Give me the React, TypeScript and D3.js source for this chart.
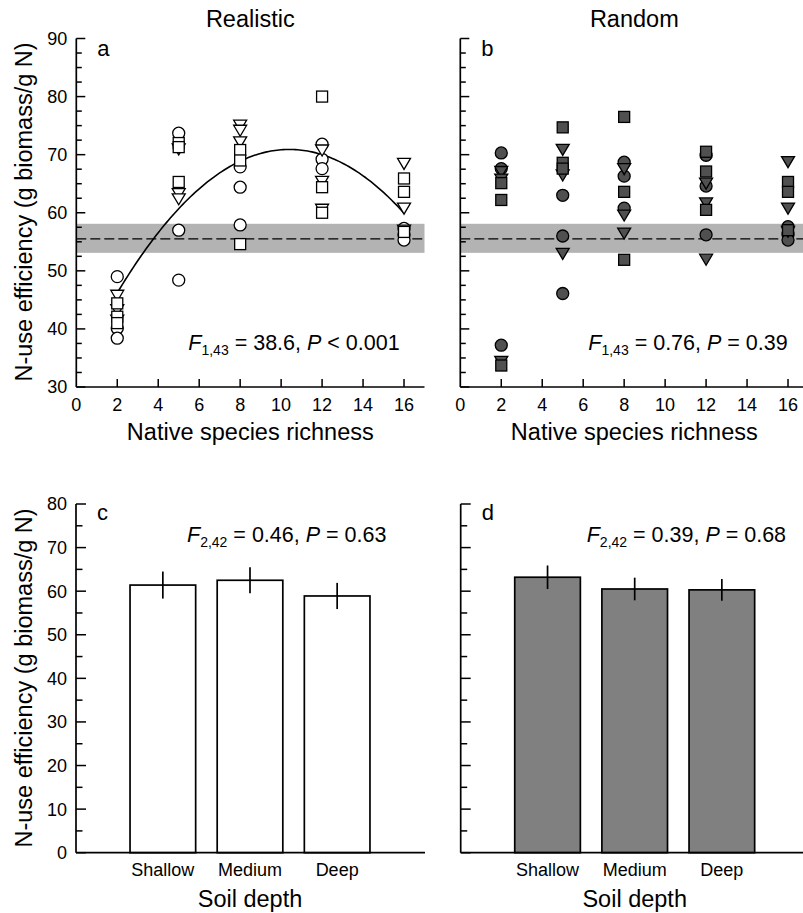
import React from 'react';
import * as d3 from 'd3';

// richness levels (x) for the scatter panels
const richness = [2, 5, 8, 12, 16];

// Realistic assemblages: three replicate values per richness level and per soil depth symbol
const realCircle = [[49.0, 40.1, 38.4], [73.7, 57.0, 48.4], [67.9, 64.4, 57.9], [71.8, 69.2, 67.6], [57.3, 56.2, 55.3]];
const realTriangle = [[45.8, 43.3, 41.5], [71.0, 63.3, 62.4], [75.1, 74.2, 72.2], [70.8, 65.4, 60.6], [68.5, 60.8, 57.0]];
const realSquare = [[44.4, 42.1, 41.0], [72.0, 71.3, 65.3], [70.8, 69.0, 54.6], [80.0, 64.4, 60.0], [65.9, 63.6, 56.7]];

// Random assemblages
const randCircle = [[70.3, 67.6, 37.2], [63.0, 56.0, 46.1], [68.7, 66.3, 60.8], [69.9, 64.6, 56.2], [57.6, 56.3, 55.3]];
const randTriangle = [[67.1, 65.8, 34.4], [70.9, 66.5, 53.0], [67.6, 59.6, 56.5], [65.1, 61.7, 52.0], [68.8, 60.8, 56.8]];
const randSquare = [[65.1, 62.2, 33.7], [74.7, 68.6, 67.6], [76.5, 63.6, 51.9], [70.5, 67.1, 60.5], [65.3, 63.6, 57.0]];

// monoculture reference band (mean and its interval)
const bandLow = 53.1;
const bandMean = 55.5;
const bandHigh = 58.1;

// quadratic fit for the realistic panel: y = peakY + curv * (x - peakX)^2
const fitPeakX = 10.4;
const fitPeakY = 70.9;
const fitCurv = -0.35;
const fitRange = [2, 16];

// soil depth bars
const depths = ['Shallow', 'Medium', 'Deep'];
const realMeans = [61.4, 62.5, 58.9];
const realErr = [3.1, 3.0, 3.0];
const randMeans = [63.2, 60.5, 60.3];
const randErr = [2.7, 2.6, 2.5];

const xTicks = [0, 2, 4, 6, 8, 10, 12, 14, 16];

const FONT = '"Liberation Sans", Arial, Helvetica, sans-serif';
const DARK = '#505050';
const BARGRAY = '#808080';

// top panels share this vertical scale
const yTop = d3.scaleLinear().domain([30, 90]).range([387, 38.5]);
const xRich = d3.scaleLinear().domain([0, 17]).range([0, 348.2]);
// bottom panels
const yBot = d3.scaleLinear().domain([0, 80]).range([852.7, 504]);

const Stat = ({ x, y, sub, rest1, p, rest2 }) => (
  <text x={x} y={y} fontSize={21.5} fontFamily={FONT}>
    <tspan fontStyle="italic">F</tspan>
    <tspan fontSize={14} dy={5}>{sub}</tspan>
    <tspan dy={-5}>{rest1}</tspan>
    <tspan fontStyle="italic">{p}</tspan>
    <tspan>{rest2}</tspan>
  </text>
);

const Marker = ({ kind, cx, cy, fill }) => {
  if (kind === 'circle') {
    return <circle cx={cx} cy={cy} r={6} fill={fill} stroke="#000" strokeWidth={1.3} />;
  }
  if (kind === 'square') {
    return <rect x={cx - 5.5} y={cy - 5.5} width={11} height={11} fill={fill} stroke="#000" strokeWidth={1.3} />;
  }
  return (
    <path d={`M${cx - 6.5},${cy - 5} L${cx + 6.5},${cy - 5} L${cx},${cy + 6} Z`}
      fill={fill} stroke="#000" strokeWidth={1.3} strokeLinejoin="miter" />
  );
};

const ScatterPanel = ({ x0, circles, triangles, squares, fill, letter, title, showYLabels, stat, fit }) => {
  const xMax = xRich(17);
  const yMinor = d3.range(30, 90.01, 2.5);
  const series = [
    { kind: 'circle', vals: circles },
    { kind: 'triangle', vals: triangles },
    { kind: 'square', vals: squares },
  ];
  const line = d3.line().x(d => xRich(d[0])).y(d => yTop(d[1]));
  const fitPts = fit
    ? d3.range(fitRange[0], fitRange[1] + 0.001, 0.1).map(x => [x, fitPeakY + fitCurv * (x - fitPeakX) ** 2])
    : null;

  return (
    <g transform={`translate(${x0},0)`}>
      <text x={174} y={27} textAnchor="middle" fontSize={23.5} fontFamily={FONT}>{title}</text>
      {/* reference band */}
      <rect x={0} y={yTop(bandHigh)} width={xMax} height={yTop(bandLow) - yTop(bandHigh)} fill="#b3b3b3" />
      <line x1={0} x2={xMax} y1={yTop(bandMean)} y2={yTop(bandMean)} stroke="#000" strokeWidth={1.3} strokeDasharray="10 4" />
      {fitPts && <path d={line(fitPts)} fill="none" stroke="#000" strokeWidth={1.6} />}
      {series.map(s => s.vals.map((vals, i) => vals.map((v, j) => (
        <Marker key={`${s.kind}-${i}-${j}`} kind={s.kind} cx={xRich(richness[i])} cy={yTop(v)} fill={fill} />
      ))))}
      {/* axes */}
      <line x1={0} x2={0} y1={yTop(90)} y2={yTop(30)} stroke="#000" strokeWidth={1.7} />
      <line x1={0} x2={xMax} y1={yTop(30)} y2={yTop(30)} stroke="#000" strokeWidth={1.7} />
      {yMinor.map(v => (
        <line key={v} x1={0} x2={v % 10 === 0 ? 9 : 5.5} y1={yTop(v)} y2={yTop(v)} stroke="#000" strokeWidth={1.5} />
      ))}
      {showYLabels && yTop.ticks(6).map(v => (
        <text key={v} x={-9} y={yTop(v)} dy="0.36em" textAnchor="end" fontSize={18} fontFamily={FONT}>{v}</text>
      ))}
      {xTicks.map(v => (
        <g key={v}>
          {v > 0 && <line x1={xRich(v)} x2={xRich(v)} y1={yTop(30)} y2={yTop(30) - 8} stroke="#000" strokeWidth={1.5} />}
          <text x={xRich(v)} y={411} textAnchor="middle" fontSize={18} fontFamily={FONT}>{v}</text>
        </g>
      ))}
      <text x={174} y={440} textAnchor="middle" fontSize={23.5} fontFamily={FONT}>Native species richness</text>
      <text x={21} y={56} fontSize={22} fontFamily={FONT}>{letter}</text>
      {stat}
    </g>
  );
};

const BarPanel = ({ x0, means, errs, fill, letter, showYLabels, stat, axisLen }) => {
  const xb = d3.scaleBand().domain(depths).range([0, 348]).paddingInner(0.247).paddingOuter(0.62);
  const yMinor = d3.range(0, 80.01, 5);
  return (
    <g transform={`translate(${x0},0)`}>
      {means.map((m, i) => (
        <g key={depths[i]}>
          <rect x={xb(depths[i])} y={yBot(m)} width={xb.bandwidth()} height={yBot(0) - yBot(m)}
            fill={fill} stroke="#000" strokeWidth={1.7} />
          <line x1={xb(depths[i]) + xb.bandwidth() / 2} x2={xb(depths[i]) + xb.bandwidth() / 2}
            y1={yBot(m + errs[i])} y2={yBot(m - errs[i])} stroke="#000" strokeWidth={1.7} />
          <text x={xb(depths[i]) + xb.bandwidth() / 2} y={876} textAnchor="middle" fontSize={18} fontFamily={FONT}>{depths[i]}</text>
        </g>
      ))}
      <line x1={0} x2={0} y1={yBot(80)} y2={yBot(0)} stroke="#000" strokeWidth={1.7} />
      <line x1={0} x2={axisLen} y1={yBot(0)} y2={yBot(0)} stroke="#000" strokeWidth={1.7} />
      {yMinor.map(v => (
        <line key={v} x1={0} x2={v % 10 === 0 ? 10 : 6.5} y1={yBot(v)} y2={yBot(v)} stroke="#000" strokeWidth={1.5} />
      ))}
      {showYLabels && yBot.ticks(8).map(v => (
        <text key={v} x={-9} y={yBot(v)} dy="0.36em" textAnchor="end" fontSize={18} fontFamily={FONT}>{v}</text>
      ))}
      <text x={174} y={907} textAnchor="middle" fontSize={23.5} fontFamily={FONT}>Soil depth</text>
      <text x={21} y={520} fontSize={22} fontFamily={FONT}>{letter}</text>
      {stat}
    </g>
  );
};

export default function App() {
  return (
    <svg width={803} height={913} style={{ position: 'absolute', left: 0, top: 0, background: '#fff' }}>
      <rect width={803} height={913} fill="#fff" />
      <text transform="translate(32,212) rotate(-90)" textAnchor="middle" fontSize={23.5} fontFamily={FONT}>
        N-use efficiency (g biomass/g N)
      </text>
      <text transform="translate(32,678) rotate(-90)" textAnchor="middle" fontSize={23.5} fontFamily={FONT}>
        N-use efficiency (g biomass/g N)
      </text>
      <ScatterPanel x0={76.3} circles={realCircle} triangles={realTriangle} squares={realSquare}
        fill="#fff" letter="a" title="Realistic" showYLabels fit
        stat={<Stat x={112} y={350} sub="1,43" rest1=" = 38.6, " p="P" rest2=" < 0.001" />} />
      <ScatterPanel x0={460.3} circles={randCircle} triangles={randTriangle} squares={randSquare}
        fill={DARK} letter="b" title="Random" showYLabels={false} fit={false}
        stat={<Stat x={128} y={350} sub="1,43" rest1=" = 0.76, " p="P" rest2=" = 0.39" />} />
      <BarPanel x0={76} means={realMeans} errs={realErr} fill="#fff" letter="c" showYLabels axisLen={349}
        stat={<Stat x={111} y={542} sub="2,42" rest1=" = 0.46, " p="P" rest2=" = 0.63" />} />
      <BarPanel x0={460.7} means={randMeans} errs={randErr} fill={BARGRAY} letter="d" showYLabels={false} axisLen={350}
        stat={<Stat x={126} y={542} sub="2,42" rest1=" = 0.39, " p="P" rest2=" = 0.68" />} />
    </svg>
  );
}
